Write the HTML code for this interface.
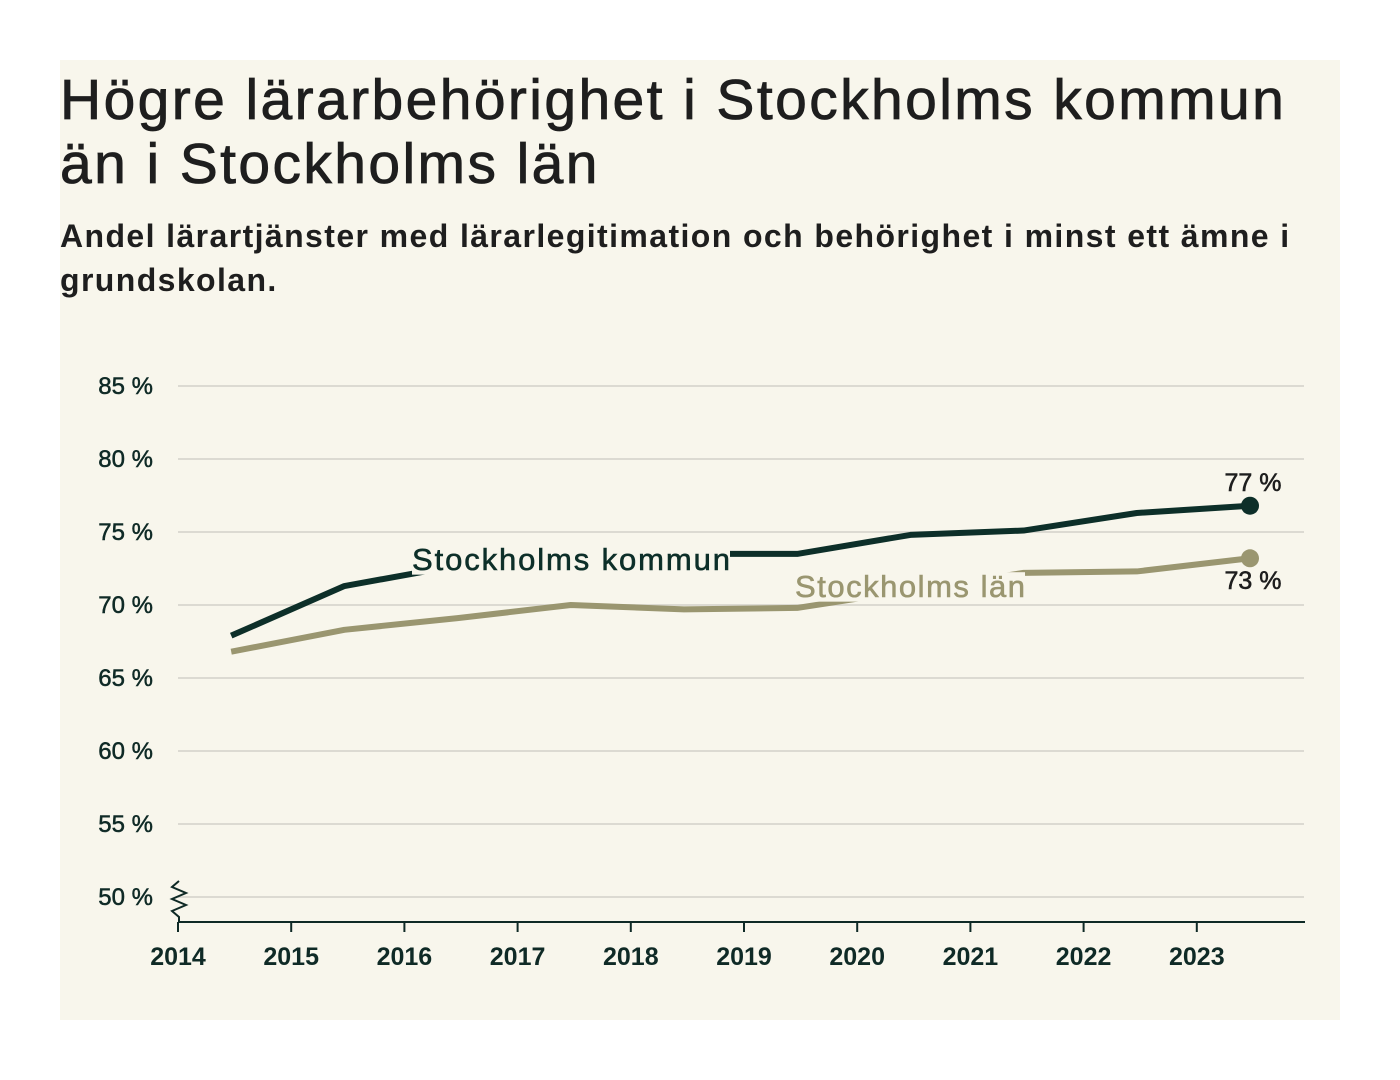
<!DOCTYPE html>
<html><head><meta charset="utf-8"><style>
body{margin:0;width:1400px;height:1080px;background:#fff;font-family:"Liberation Sans",sans-serif;overflow:hidden}
#panel{position:absolute;left:60px;top:60px;width:1280px;height:960px;background:#f8f6ec}
h1{position:absolute;left:0;top:8px;margin:0;font-size:57px;line-height:64px;font-weight:normal;color:#1e1e1e;letter-spacing:2.4px;white-space:nowrap;-webkit-text-stroke:0.8px #1e1e1e}
h2{position:absolute;left:0;top:154px;margin:0;font-size:32px;line-height:44px;font-weight:bold;color:#1e1e1e;width:1270px;letter-spacing:1.4px}
svg{position:absolute;left:0;top:0}
</style></head><body>
<div id="panel">
<h1>Högre lärarbehörighet i Stockholms kommun<br>än i Stockholms län</h1>
<h2>Andel lärartjänster med lärarlegitimation och behörighet i minst ett ämne i grundskolan.</h2>
</div>
<svg id="chart" width="1400" height="1080"></svg>
<script>
const years=[2014,2015,2016,2017,2018,2019,2020,2021,2022,2023];
const yTicks=[50,55,60,65,70,75,80,85];
const kommun=[67.9,71.3,72.7,73.3,73.5,73.5,74.8,75.1,76.3,76.8];
const lan=[66.8,68.3,69.1,70.0,69.7,69.8,71.0,72.2,72.3,73.2];
const NS="http://www.w3.org/2000/svg";
const svg=document.getElementById('chart');
const x=v=>178+(v-2014)*113.2;
const y=v=>897-(v-50)*14.6;
function mk(t,a,p){const e=document.createElementNS(NS,t);for(const k in a)e.setAttribute(k,a[k]);(p||svg).appendChild(e);return e;}
yTicks.forEach(v=>{
 const g=mk('line',{x1:178,x2:1304,y1:y(v),y2:y(v),stroke:'#dcdad2','stroke-width':2});
 
 
 const t=mk('text',{x:153,y:y(v)+8,'text-anchor':'end','font-size':24,fill:'#0f2a26',stroke:'#0f2a26','stroke-width':0.5});
 t.textContent=v+' %';
 
 
});
const ax=mk('line',{x1:178,x2:1305,y1:922,y2:922,stroke:'#0f2a26','stroke-width':2});


const br=mk('polyline',{points:'179,881 172,887 186,893 172,899 186,905 172,911 179,917 179,922',fill:'none',stroke:'#0f2a26','stroke-width':2});


years.forEach(v=>{
 const tk=mk('line',{x1:x(v),x2:x(v),y1:922,y2:932,stroke:'#0f2a26','stroke-width':2});
 
 
 const t=mk('text',{x:x(v),y:965,'text-anchor':'middle','font-size':25,'font-weight':'bold',fill:'#0f2a26'});
 t.textContent=v;
 
 
});
function series(vals,col,name){
 const pts=vals.map((v,i)=>x(years[i]+0.47)+','+y(v)).join(' ');
 const l=mk('polyline',{points:pts,fill:'none',stroke:col,'stroke-width':6,'stroke-linejoin':'round'});
 
 
 const n=vals.length-1;
 const c=mk('circle',{cx:x(years[n]+0.47),cy:y(vals[n]),r:9,fill:col});
 
 
}
series(lan,'#9a9670','lan');
series(kommun,'#0d2f29','kommun');
function label(txt,xx,yy,col,name,size,anchor,len,halo){
 const base={x:xx,y:yy,'font-size':size,'text-anchor':anchor||'start'};
 if(len){base.textLength=len;base.lengthAdjust='spacing';}
 let r;
 if(halo){
  r=mk('rect',{x:xx,y:yy-size*0.8,width:len,height:size*0.95,fill:'#f8f6ec'});
  
  
 }
 const t=mk('text',Object.assign({fill:col,stroke:col,'stroke-width':0.6},base));
 t.textContent=txt;
 
 
}
label('Stockholms kommun',412,570,'#0d2f29','kommun-label',31,'start',318,true);
label('Stockholms län',795,597,'#9a9670','lan-label',31,'start',230,true);
label(Math.round(kommun[9])+' %',1253,491,'#1e1e1e','kommun-end-value',25,'middle');
label(Math.round(lan[9])+' %',1253,589,'#1e1e1e','lan-end-value',25,'middle');
</script>
</body></html>
